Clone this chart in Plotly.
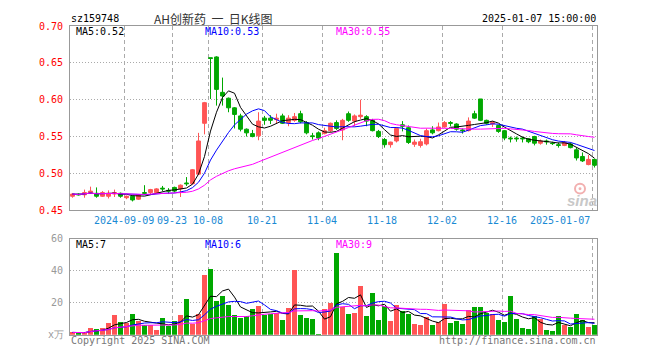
import numpy as np
import pandas as pd
import plotly.graph_objects as go

# ---------------- data ----------------
holidays = ["2024-09-16", "2024-09-17", "2024-10-01", "2024-10-02", "2024-10-03",
            "2024-10-04", "2024-10-07", "2025-01-01"]
dates = [d.strftime("%Y-%m-%d") for d in pd.bdate_range("2024-08-27", "2025-01-07")
         if d.strftime("%Y-%m-%d") not in holidays]

open_ = [0.469, 0.472, 0.471, 0.474, 0.473, 0.469, 0.469, 0.472, 0.473, 0.467,
         0.469, 0.465, 0.474, 0.474, 0.474, 0.480, 0.477, 0.481, 0.479, 0.487,
         0.486, 0.499, 0.568, 0.657, 0.658, 0.610, 0.602, 0.589, 0.578, 0.560,
         0.554, 0.551, 0.575, 0.575, 0.573, 0.578, 0.569, 0.572, 0.581, 0.569,
         0.551, 0.555, 0.554, 0.558, 0.569, 0.559, 0.581, 0.571, 0.577, 0.577,
         0.572, 0.557, 0.546, 0.539, 0.544, 0.566, 0.562, 0.5395, 0.538, 0.540,
         0.559, 0.558, 0.563, 0.569, 0.567, 0.559, 0.558, 0.581, 0.601, 0.572,
         0.567, 0.565, 0.558, 0.548, 0.548, 0.548, 0.547, 0.550, 0.541, 0.544,
         0.541, 0.539, 0.538, 0.540, 0.532, 0.523, 0.512, 0.519]
high = [0.473, 0.473, 0.478, 0.482, 0.481, 0.476, 0.477, 0.478, 0.474, 0.470,
        0.470, 0.472, 0.484, 0.479, 0.480, 0.483, 0.480, 0.482, 0.485, 0.495,
        0.506, 0.555, 0.597, 0.657, 0.659, 0.630, 0.603, 0.590, 0.581, 0.561,
        0.559, 0.583, 0.578, 0.579, 0.581, 0.581, 0.579, 0.582, 0.585, 0.571,
        0.555, 0.557, 0.562, 0.569, 0.572, 0.574, 0.584, 0.580, 0.600, 0.579,
        0.574, 0.559, 0.548, 0.543, 0.563, 0.571, 0.565, 0.546, 0.547, 0.561,
        0.564, 0.569, 0.571, 0.571, 0.568, 0.561, 0.576, 0.585, 0.601, 0.573,
        0.571, 0.566, 0.559, 0.550, 0.550, 0.550, 0.548, 0.551, 0.546, 0.546,
        0.543, 0.542, 0.544, 0.542, 0.535, 0.5285, 0.525, 0.520]
low = [0.467, 0.470, 0.467, 0.473, 0.467, 0.468, 0.466, 0.468, 0.467, 0.465,
       0.462, 0.464, 0.471, 0.472, 0.473, 0.476, 0.472, 0.474, 0.468, 0.483,
       0.485, 0.498, 0.553, 0.601, 0.592, 0.592, 0.583, 0.561, 0.557, 0.550,
       0.549, 0.545, 0.566, 0.567, 0.568, 0.567, 0.564, 0.570, 0.568, 0.553,
       0.546, 0.545, 0.553, 0.556, 0.559, 0.545, 0.570, 0.564, 0.574, 0.564,
       0.557, 0.548, 0.535, 0.535, 0.542, 0.557, 0.540, 0.536, 0.535, 0.538,
       0.553, 0.557, 0.562, 0.564, 0.558, 0.554, 0.557, 0.574, 0.571, 0.566,
       0.563, 0.555, 0.545, 0.542, 0.543, 0.542, 0.541, 0.538, 0.539, 0.539,
       0.5385, 0.535, 0.537, 0.534, 0.5175, 0.5155, 0.511, 0.508]
close = [0.472, 0.471, 0.474, 0.476, 0.469, 0.474, 0.473, 0.474, 0.469, 0.469,
         0.464, 0.471, 0.473, 0.478, 0.479, 0.479, 0.476, 0.476, 0.484, 0.486,
         0.505, 0.544, 0.596, 0.656, 0.614, 0.605, 0.589, 0.580, 0.560, 0.555,
         0.550, 0.571, 0.572, 0.572, 0.575, 0.568, 0.575, 0.577, 0.570, 0.555,
         0.550, 0.548, 0.558, 0.568, 0.561, 0.572, 0.572, 0.578, 0.579, 0.571,
         0.558, 0.550, 0.539, 0.5425, 0.561, 0.564, 0.542, 0.5425, 0.543, 0.558,
         0.555, 0.563, 0.569, 0.568, 0.560, 0.558, 0.571, 0.575, 0.572, 0.568,
         0.569, 0.557, 0.548, 0.547, 0.547, 0.547, 0.543, 0.541, 0.544, 0.543,
         0.5405, 0.538, 0.542, 0.535, 0.521, 0.517, 0.519, 0.511]
volume = [1.4, 0.8, 1.6, 4.0, 3.4, 4.0, 7.3, 12.0, 7.7, 7.0,
          12.7, 8.5, 6.0, 6.0, 3.0, 10.3, 5.5, 8.5, 12.0, 22.4,
          6.5, 13.0, 37.0, 41.2, 21.2, 24.2, 18.8, 12.0, 10.5, 11.5,
          15.8, 18.2, 12.5, 13.1, 13.5, 9.1, 16.6, 40.6, 12.1, 10.5,
          9.7, 0.5, 15.8, 19.6, 50.9, 17.2, 12.7, 13.3, 30.3, 11.5,
          26.0, 9.1, 18.2, 8.5, 18.8, 14.5, 12.7, 6.7, 6.1, 10.9,
          6.1, 7.7, 19.4, 7.3, 8.5, 6.7, 15.2, 17.6, 17.6, 13.3,
          12.7, 9.1, 7.9, 24.2, 9.7, 4.2, 3.6, 11.5, 9.7, 3.0,
          2.4, 11.5, 6.1, 4.8, 12.7, 9.1, 4.8, 6.1]

tick_dates = ["2024-09-09", "2024-09-23", "2024-10-08", "2024-10-21", "2024-11-04",
              "2024-11-18", "2024-12-02", "2024-12-16", "2025-01-07"]
tick_labels = ["2024-09-09", "09-23", "10-08", "10-21", "11-04",
               "11-18", "12-02", "12-16", "2025-01-07"]
price_ticks = [0.45, 0.50, 0.55, 0.60, 0.65, 0.70]
price_tick_text = ["0.45", "0.50", "0.55", "0.60", "0.65", "0.70"]
vol_ticks = [20, 40, 60]
vol_tick_text = ["20", "40", "60"]

# ---------------- styling ----------------
W, H = 660, 360
RED = "#FF5555"
GREEN = "#00A800"
MONO = "DejaVu Sans Mono, Liberation Mono, monospace"
GRID = "#AAAAAA"
BORDER = "#999999"

X0, X1 = 70 / W, 597 / W


def py(pix):
    return 1 - pix / H


def px(pix):
    return pix / W


x = np.arange(len(dates))
cs = pd.Series(close)
vs = pd.Series(volume)
ma = {n: cs.rolling(n, min_periods=1).mean() for n in (5, 10, 30)}
vma = {n: vs.rolling(n, min_periods=1).mean() for n in (5, 10, 30)}
ma_col = {5: "#000000", 10: "#0000FF", 30: "#FF00FF"}

fig = go.Figure()
fig.add_trace(go.Candlestick(
    x=x, open=open_, high=high, low=low, close=close,
    increasing=dict(line=dict(color=RED, width=1), fillcolor=RED),
    decreasing=dict(line=dict(color=GREEN, width=1), fillcolor=GREEN),
    whiskerwidth=0, xaxis="x", yaxis="y", showlegend=False, hoverinfo="skip"))
for n in (5, 10, 30):
    fig.add_trace(go.Scatter(x=x, y=ma[n], mode="lines", line=dict(color=ma_col[n], width=1),
                             xaxis="x", yaxis="y", showlegend=False, hoverinfo="skip"))

bar_colors = [RED if c > o else GREEN for o, c in zip(open_, close)]
fig.add_trace(go.Bar(x=x, y=volume, width=0.83, marker=dict(color=bar_colors, line=dict(width=0)),
                     xaxis="x2", yaxis="y2", showlegend=False, hoverinfo="skip"))
for n in (5, 10, 30):
    fig.add_trace(go.Scatter(x=x, y=vma[n], mode="lines", line=dict(color=ma_col[n], width=1),
                             xaxis="x2", yaxis="y2", showlegend=False, hoverinfo="skip"))

grid_x = [dates.index(d) - 0.37 for d in tick_dates]
xcommon = dict(range=[-0.42, len(dates) - 0.58], showticklabels=False, tickmode="array",
               tickvals=grid_x, showgrid=True, gridcolor=GRID, griddash="4px,3px", gridwidth=1,
               showline=True, mirror=True, linecolor=BORDER, linewidth=1, zeroline=False,
               ticks="", fixedrange=True)
ycommon = dict(showgrid=True, gridcolor=GRID, griddash="1px,2px", gridwidth=1,
               showline=True, mirror=True, linecolor=BORDER, linewidth=1, zeroline=False,
               ticks="", tickmode="array", ticklabelstandoff=4, fixedrange=True)

ann = []


def text(s, xpix, ypix, color="#000000", anchor="left", size=10, family=MONO, **kw):
    ann.append(dict(text=s, x=px(xpix), y=py(ypix), xref="paper", yref="paper",
                    xanchor=anchor, yanchor="middle", showarrow=False,
                    font=dict(family=family, size=size, color=color), **kw))


text("sz159748", 69, 13)
text("AH创新药\u00a0\u00a0一\u00a0\u00a0日K线图", 213.5, 13, color="#333333", anchor="center",
     size=12, family="Noto Sans CJK SC")
text("2025-01-07 15:00:00", 598, 13, anchor="right")
text("MA5:0.52", 74, 26)
text("MA10:0.53", 203, 26, color="#0000FF")
text("MA30:0.55", 334, 26, color="#FF00FF")
text("MA5:7", 74, 247)
text("MA10:6", 203, 247, color="#0000FF")
text("MA30:9", 334, 247, color="#FF00FF")
text("x万", 66, 340, color="#999999", anchor="right")
text("Copyright 2025 SINA.COM", 69, 346, color="#777777")
text("http://finance.sina.com.cn", 598, 346, color="#777777", anchor="right")
text("<b><i>sina</i></b>", 582, 201, color="#C8C8C8", anchor="center", size=15,
     family="Liberation Sans, Arial, sans-serif")

# watermark eye (decorative shape, not text)
shapes = [dict(type="circle", xref="paper", yref="paper",
               x0=px(575), x1=px(585), y0=py(194), y1=py(184),
               line=dict(color="#F2B0B0", width=2), fillcolor="rgba(0,0,0,0)"),
          dict(type="circle", xref="paper", yref="paper",
               x0=px(578.5), x1=px(581.5), y0=py(190.5), y1=py(187.5),
               line=dict(width=0), fillcolor="#F2B0B0")]

# x tick labels (last one right-aligned at its grid line, as in the reference)
for d, lab in zip(tick_dates, tick_labels):
    xi = dates.index(d) - 0.37
    last = d == tick_dates[-1]
    ann.append(dict(text=lab, x=xi, y=py(222), xref="x", yref="paper",
                    xanchor="right" if last else "center", yanchor="middle", showarrow=False,
                    font=dict(family=MONO, size=10, color="#1A8AD4")))

fig.update_layout(
    width=W, height=H, autosize=False,
    margin=dict(l=0, r=0, t=0, b=0, pad=0),
    paper_bgcolor="white", plot_bgcolor="white",
    showlegend=False, hovermode=False, boxgap=0.2, boxgroupgap=0.2, bargap=0,
    xaxis=dict(domain=[X0, X1], anchor="y", rangeslider=dict(visible=False), **xcommon),
    xaxis2=dict(domain=[X0, X1], anchor="y2", **xcommon),
    yaxis=dict(domain=[py(211.3), py(20.7)], anchor="x", range=[0.45, 0.70],
               tickvals=price_ticks, ticktext=price_tick_text,
               tickfont=dict(family=MONO, size=10, color="#FF0000"), **ycommon),
    yaxis2=dict(domain=[py(340), py(240.7)], anchor="x2", range=[0, 60],
                tickvals=vol_ticks, ticktext=vol_tick_text,
                tickfont=dict(family=MONO, size=10, color="#999999"), **ycommon),
    annotations=ann,
    shapes=shapes,
)

fig.write_html("out.html", config={"displayModeBar": False, "staticPlot": True})
